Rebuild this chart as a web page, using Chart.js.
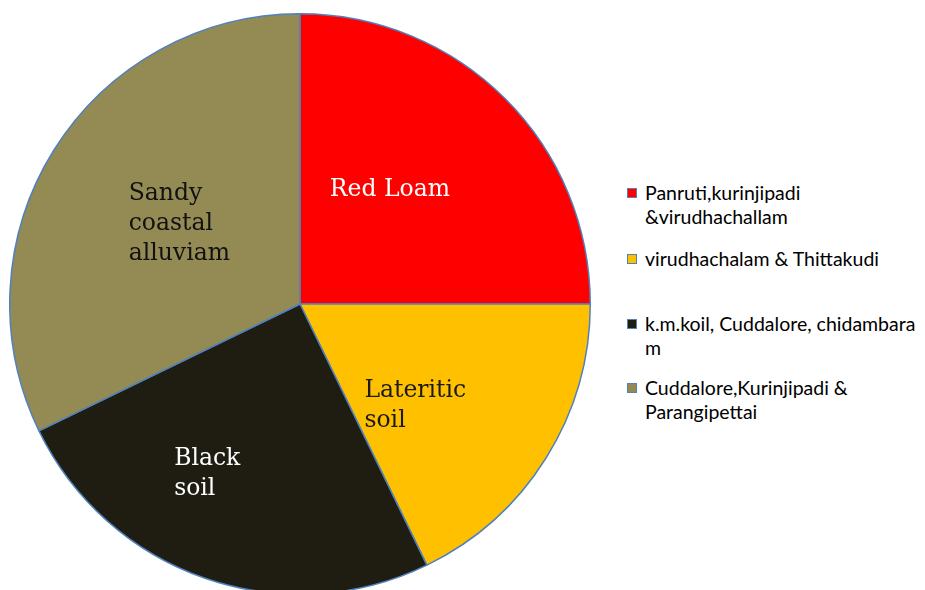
<!DOCTYPE html>
<html>
<head>
<meta charset="utf-8">
<script src="https://cdn.jsdelivr.net/npm/chart.js@4.4.1/dist/chart.umd.min.js"></script>
<style>
    html, body { margin: 0; padding: 0; background: #fff; overflow: hidden; }
    #pagina { position: relative; width: 925px; height: 590px; overflow: hidden; }
    #caixa-pizza { position: absolute; left: 9px; top: 13px; width: 582px; height: 582px; }
    #legenda { position: absolute; left: 627px; top: 181px; font-family: Lato, "Open Sans", sans-serif; font-size: 19.5px; color: #000; white-space: nowrap; }
    .item { position: relative; padding-left: 18px; line-height: 24px; }
    .quadrado { position: absolute; left: 0; top: 7px; width: 8px; height: 8px; border: 1px solid #4f81bd; }
</style>
</head>
<body>
<div id="pagina">
    <div id="caixa-pizza"><canvas id="grafico-solo"></canvas></div>
    <div id="legenda"></div>
</div>
<script>
// dados
const tiposSolo = [["Red Loam"], ["Lateritic", "soil"], ["Black", "soil"], ["Sandy", "coastal", "alluviam"]];
const regioes = [
    ["Panruti,kurinjipadi", "&virudhachallam"],
    ["virudhachalam & Thittakudi"],
    ["k.m.koil, Cuddalore, chidambara", "m"],
    ["Cuddalore,Kurinjipadi &", "Parangipettai"]
];
const valores = [25, 17.8, 25, 32.2];
const cores = ['#ff0000', '#ffc000', '#1f1c12', '#948a54'];
const coresTexto = ['#ffffff', '#1a1a1a', '#ffffff', '#111111'];
// posição do rótulo: fração do raio e desvio do ângulo médio (graus)
const posRotulo = [[0.5, -6.7], [0.53, 9.4], [0.666, 9.6], [0.5, 1.7]];
const espacoLegenda = [0, 18, 41, 16];

function montarLegenda() {
    const legenda = document.getElementById('legenda');
    regioes.forEach((linhas, i) => {
        const item = document.createElement('div');
        item.className = 'item';
        item.style.marginTop = espacoLegenda[i] + 'px';
        const q = document.createElement('span');
        q.className = 'quadrado';
        q.style.background = cores[i];
        item.appendChild(q);
        item.innerHTML += linhas.join('<br>');
        legenda.appendChild(item);
    });
}

const rotulosSolo = {
    id: 'rotulosSolo',
    afterDatasetsDraw(chart) {
        const ctx = chart.ctx;
        const arcos = chart.getDatasetMeta(0).data;
        ctx.save();
        ctx.font = '23.5px "DejaVu Serif", serif';
        ctx.textBaseline = 'middle';
        ctx.textAlign = 'left';
        arcos.forEach((arco, i) => {
            const p = arco.getProps(['x', 'y', 'startAngle', 'endAngle', 'outerRadius'], true);
            const ang = (p.startAngle + p.endAngle) / 2 + posRotulo[i][1] * Math.PI / 180;
            const r = p.outerRadius * posRotulo[i][0];
            const cx = p.x + Math.cos(ang) * r;
            const cy = p.y + Math.sin(ang) * r;
            const linhas = tiposSolo[i];
            const largura = Math.max(...linhas.map(l => ctx.measureText(l).width));
            const altura = 30;
            const y0 = cy - (linhas.length - 1) * altura / 2;
            ctx.fillStyle = coresTexto[i];
            linhas.forEach((l, j) => ctx.fillText(l, cx - largura / 2, y0 + j * altura));
        });
        ctx.restore();
    }
};

document.addEventListener('DOMContentLoaded', () => {
    montarLegenda();
    new Chart(document.getElementById('grafico-solo'), {
        type: 'pie',
        data: {
            labels: tiposSolo.map(t => t.join(' ')),
            datasets: [{
                data: valores,
                backgroundColor: cores,
                borderColor: '#4f81bd',
                borderWidth: 1.5
            }]
        },
        options: {
            responsive: true,
            maintainAspectRatio: false,
            animation: false,
            plugins: {
                legend: { display: false },
                tooltip: { enabled: false }
            }
        },
        plugins: [rotulosSolo]
    });
});
</script>
</body>
</html>
